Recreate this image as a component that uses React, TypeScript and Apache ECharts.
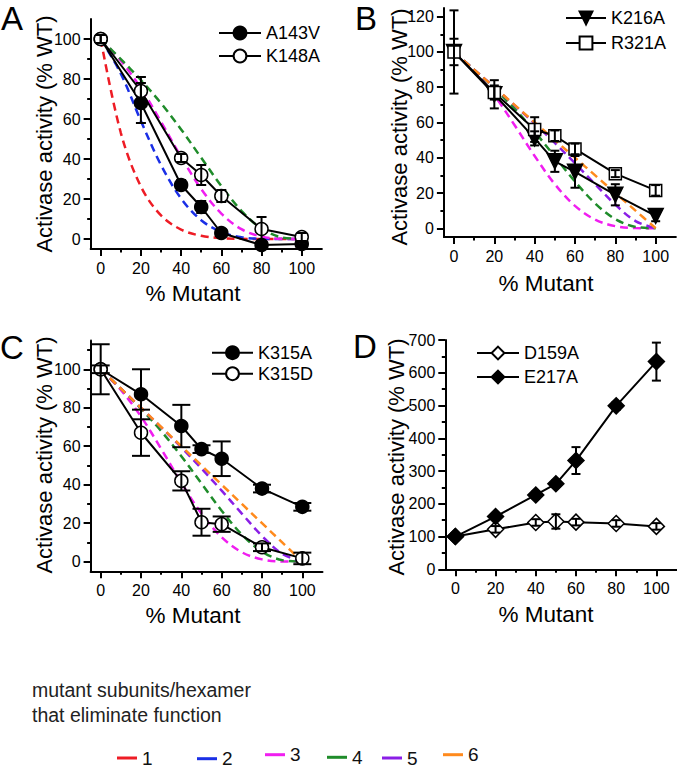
import React, { useEffect, useRef } from 'react';
import * as echarts from 'echarts';

const FONT = "'Liberation Sans', Arial, Helvetica, sans-serif";

// x positions (% mutant) of the measured points
const xPct = [0, 20, 40, 50, 60, 80, 100];

// Panel A
const a143v = [100, 68, 27, 16, 3, -3, -2.5];
const a143vErr = [2, 10, 2.5, 3, 2, 1.5, 1];
const k148a = [100, 74, 40.5, 32, 21.5, 5, 1];
const k148aErr = [2, 7, 2, 5, 3, 6, 2];

// Panel B
const k216a = [100, 76, 51, 38, 32, 19, 7];
const k216aErr = [23.6, 8, 4, 6, 9, 6, 3];
const r321a = [100, 77, 56, 52.5, 45, 31, 21.5];
const r321aErr = [7.5, 4, 7, 3, 3, 2, 3];

// Panel C
const k315a = [100, 87, 70.5, 58.5, 53.5, 38, 28.5];
const k315aErr = [13, 13, 11, 2, 9, 2, 2];
const k315d = [100, 67, 42, 20.5, 19.5, 7.5, 1.7];
const k315dErr = [2, 12, 5, 7, 4, 2, 3];

// Panel D
const d159a = [100, 122, 143, 146, 144, 140, 131];
const d159aErr = [10, 10, 10, 22, 10, 10, 10];
const e217a = [100, 161, 227, 261, 332, 499, 634];
const e217aErr = [10, 10, 10, 10, 41, 12, 58];

// Dashed model curves (mutant subunits/hexamer that eliminate function)
const modelX = [0, 10, 20, 30, 40, 50, 60, 70, 80, 90, 100];
const model1 = [100, 53.1, 26.2, 11.8, 4.7, 1.6, 0.4, 0.1, 0, 0, 0];
const model2 = [100, 82.7, 59.0, 37.0, 20.2, 9.4, 3.5, 0.9, 0.1, 0, 0];
const model3 = [100, 89.2, 75.4, 58.6, 41.0, 25.0, 12.7, 4.9, 1.2, 0.1, 0];
const model4 = [100, 89.9, 79.5, 67.9, 54.8, 40.6, 26.5, 14.1, 5.2, 0.8, 0];
const model5 = [100, 90.0, 80.0, 69.8, 59.4, 48.4, 36.9, 25.0, 13.4, 4.1, 0];
const model6 = [100, 90, 80, 70, 60, 50, 40, 30, 20, 10, 0];
const modelNames = ['1', '2', '3', '4', '5', '6'];

// tick values
const xMajor = [0, 20, 40, 60, 80, 100];
const xMinor = [10, 30, 50, 70, 90];
const yMajor100 = [0, 20, 40, 60, 80, 100];
const yMinor100 = [10, 30, 50, 70, 90];
const yMajor120 = [0, 20, 40, 60, 80, 100, 120];
const yMinor120 = [10, 30, 50, 70, 90, 110];
const yMinor115 = [10, 30, 50, 70, 90, 110];
const yMajor700 = [0, 100, 200, 300, 400, 500, 600, 700];
const yMinor700 = [50, 150, 250, 350, 450, 550, 650];

const MODELS = [model1, model2, model3, model4, model5, model6];
const MODEL_COLORS = ['#ee1c25', '#1a2fe6', '#f01ef0', '#1f8c2a', '#8a1ee6', '#ff8a1c'];

type DS = { name: string; y: number[]; err: number[]; symbol: string; fill: string; size: number; rotate?: number };

const panels: any[] = [
  {
    grid: { left: 90.65, top: 19, width: 231.2, height: 230 },
    yMin: -5, yMax: 110, yMajor: yMajor100, yMinor: yMinor100,
    models: [0, 1, 2, 3], cap: 5,
    data: [
      { name: 'A143V', y: a143v, err: a143vErr, symbol: 'circle', fill: '#000', size: 13 },
      { name: 'K148A', y: k148a, err: k148aErr, symbol: 'circle', fill: '#fff', size: 13 },
    ] as DS[],
    legend: { left: 218, top: 24, itemWidth: 42, itemGap: 5 },
  },
  {
    grid: { left: 443.9, top: 7.9, width: 231.95, height: 229.2 },
    yMin: -5, yMax: 125, yMajor: yMajor120, yMinor: yMinor120,
    models: [2, 3, 4, 5], cap: 4.5,
    data: [
      { name: 'K216A', y: k216a, err: k216aErr, symbol: 'triangle', fill: '#000', size: 15, rotate: 180 },
      { name: 'R321A', y: r321a, err: r321aErr, symbol: 'rect', fill: '#fff', size: 12 },
    ] as DS[],
    legend: { left: 565, top: 9, itemWidth: 40, itemGap: 7 },
  },
  {
    grid: { left: 90.6, top: 340.4, width: 231.9, height: 230.9 },
    yMin: -5, yMax: 115, yMajor: yMajor100, yMinor: yMinor115,
    models: [2, 3, 4, 5], cap: 9,
    data: [
      { name: 'K315A', y: k315a, err: k315aErr, symbol: 'circle', fill: '#000', size: 13 },
      { name: 'K315D', y: k315d, err: k315dErr, symbol: 'circle', fill: '#fff', size: 13 },
    ] as DS[],
    legend: { left: 211, top: 343.7, itemWidth: 41, itemGap: 3 },
  },
  {
    grid: { left: 445.3, top: 340, width: 231.2, height: 229.3 },
    yMin: 0, yMax: 700, yMajor: yMajor700, yMinor: yMinor700,
    models: [], cap: 4.5,
    data: [
      { name: 'D159A', y: d159a, err: d159aErr, symbol: 'diamond', fill: '#fff', size: 16 },
      { name: 'E217A', y: e217a, err: e217aErr, symbol: 'diamond', fill: '#000', size: 16 },
    ] as DS[],
    legend: { left: 476, top: 344, itemWidth: 42, itemGap: 6 },
  },
];

const bottomLegendPos = [
  { left: 117, top: 748.5 },
  { left: 197, top: 749.2 },
  { left: 265, top: 745.2 },
  { left: 327, top: 747.8 },
  { left: 382, top: 748.5 },
  { left: 443, top: 745.2 },
];

function buildOption() {
  const grid: any[] = [];
  const xAxis: any[] = [];
  const yAxis: any[] = [];
  const series: any[] = [];
  const legend: any[] = [];

  panels.forEach((p, i) => {
    grid.push({ ...p.grid, containLabel: false, outerBoundsMode: 'none' });
    const axisCommon = {
      type: 'value',
      gridIndex: i,
      splitLine: { show: false },
    };
    // major x axis
    xAxis.push({
      ...axisCommon,
      position: 'bottom',
      min: -5, max: 110,
      axisLine: { show: true, onZero: false, lineStyle: { color: '#000', width: 2 } },
      axisTick: { show: true, inside: false, length: 7, customValues: xMajor, lineStyle: { color: '#000', width: 2 } },
      axisLabel: { show: true, customValues: xMajor, margin: 11, color: '#000', fontSize: 16, fontFamily: FONT },
    });
    // minor x axis
    xAxis.push({
      ...axisCommon,
      position: 'bottom',
      offset: 0,
      min: -5, max: 110,
      axisLine: { show: false, onZero: false },
      axisTick: { show: true, inside: false, length: 3.5, customValues: xMinor, lineStyle: { color: '#000', width: 2 } },
      axisLabel: { show: false },
    });
    yAxis.push({
      ...axisCommon,
      position: 'left',
      min: p.yMin, max: p.yMax,
      axisLine: { show: true, onZero: false, lineStyle: { color: '#000', width: 2 } },
      axisTick: { show: true, inside: false, length: 7, customValues: p.yMajor, lineStyle: { color: '#000', width: 2 } },
      axisLabel: { show: true, customValues: p.yMajor, margin: 10, color: '#000', fontSize: 16, fontFamily: FONT },
    });
    yAxis.push({
      ...axisCommon,
      position: 'left',
      offset: 0,
      min: p.yMin, max: p.yMax,
      axisLine: { show: false, onZero: false },
      axisTick: { show: true, inside: false, length: 3.5, customValues: p.yMinor, lineStyle: { color: '#000', width: 2 } },
      axisLabel: { show: false },
    });

    const xi = i * 2;
    const yi = i * 2;

    p.models.forEach((m: number) => {
      series.push({
        type: 'line',
        name: modelNames[m],
        xAxisIndex: xi,
        yAxisIndex: yi,
        data: modelX.map((x, j) => [x, MODELS[m][j]]),
        smooth: 0.35,
        symbol: 'none',
        lineStyle: { color: MODEL_COLORS[m], width: 2.5, type: [8, 5] },
        itemStyle: { color: MODEL_COLORS[m] },
        z: 1,
        silent: true,
      });
    });

    p.data.forEach((d: DS) => {
      series.push({
        type: 'line',
        name: d.name,
        xAxisIndex: xi,
        yAxisIndex: yi,
        data: xPct.map((x, j) => [x, d.y[j]]),
        symbol: d.symbol,
        symbolSize: d.size,
        symbolRotate: d.rotate || 0,
        showAllSymbol: true,
        lineStyle: { color: '#000', width: 2 },
        itemStyle: { color: d.fill, borderColor: '#000', borderWidth: 1.5 },
        z: 3,
        silent: true,
      });
    });

    p.data.forEach((d: DS) => {
      const cap = p.cap;
      series.push({
        type: 'custom',
        name: d.name + ' err',
        xAxisIndex: xi,
        yAxisIndex: yi,
        data: xPct.map((x, j) => [x, d.y[j], d.err[j]]),
        renderItem: (_params: any, api: any) => {
          const x = api.value(0);
          const y = api.value(1);
          const e = api.value(2);
          const top = api.coord([x, y + e]);
          const bot = api.coord([x, y - e]);
          const st = { stroke: '#000', lineWidth: 2 };
          return {
            type: 'group',
            children: [
              { type: 'line', shape: { x1: top[0], y1: top[1], x2: bot[0], y2: bot[1] }, style: st },
              { type: 'line', shape: { x1: top[0] - cap, y1: top[1], x2: top[0] + cap, y2: top[1] }, style: st },
              { type: 'line', shape: { x1: bot[0] - cap, y1: bot[1], x2: bot[0] + cap, y2: bot[1] }, style: st },
            ],
          };
        },
        z: 4,
        silent: true,
      });
    });

    legend.push({
      orient: 'vertical',
      left: p.legend.left,
      top: p.legend.top,
      itemWidth: p.legend.itemWidth,
      itemHeight: 16,
      itemGap: p.legend.itemGap,
      padding: 0,
      selectedMode: false,
      data: p.data.map((d: DS) => d.name),
      textStyle: { fontSize: 18, color: '#000', fontFamily: FONT },
    });
  });

  modelNames.forEach((n, k) => {
    legend.push({
      left: bottomLegendPos[k].left,
      top: bottomLegendPos[k].top,
      icon: 'rect',
      itemWidth: 20,
      itemHeight: 3,
      padding: 0,
      selectedMode: false,
      data: [n],
      itemStyle: { color: MODEL_COLORS[k], borderWidth: 0 },
      textStyle: { fontSize: 19, color: '#111', fontFamily: FONT },
    });
  });

  const txt = (text: string, x: number, y: number, size: number, opts: any = {}) => ({
    type: 'text',
    x, y,
    rotation: opts.rotation || 0,
    silent: true,
    style: {
      text,
      fontSize: size,
      fontFamily: FONT,
      fill: opts.fill || '#000',
      textAlign: opts.align || 'center',
      align: opts.align || 'center',
      textVerticalAlign: 'middle',
      verticalAlign: 'middle',
    },
  });

  const R = Math.PI / 2;
  const graphic = [
    txt('A', 1, 18, 33, { align: 'left' }),
    txt('B', 355, 18, 33, { align: 'left' }),
    txt('C', 0, 347, 33, { align: 'left' }),
    txt('D', 353, 346, 33, { align: 'left' }),
    txt('Activase activity (% WT)', 44, 134, 22, { rotation: R }),
    txt('Activase activity (% WT)', 399, 127, 22, { rotation: R }),
    txt('Activase activity (% WT)', 44, 455, 22, { rotation: R }),
    txt('Activase activity (% WT)', 396, 457, 22, { rotation: R }),
    txt('% Mutant', 193, 293, 22.5),
    txt('% Mutant', 546, 283, 22.5),
    txt('% Mutant', 193, 615, 22.5),
    txt('% Mutant', 546, 614, 22.5),
    txt('mutant subunits/hexamer', 32, 690, 19.5, { align: 'left', fill: '#222' }),
    txt('that eliminate function', 32, 715, 19.5, { align: 'left', fill: '#222' }),
  ];

  return {
    animation: false,
    backgroundColor: '#fff',
    grid,
    xAxis,
    yAxis,
    series,
    legend,
    graphic,
  };
}

export default function App() {
  const ref = useRef<HTMLDivElement>(null);
  useEffect(() => {
    const chart = echarts.init(ref.current!, null, { renderer: 'svg' });
    chart.setOption(buildOption() as any);
    return () => chart.dispose();
  }, []);
  return (
    <div
      ref={ref}
      style={{ position: 'fixed', left: 0, top: 0, width: 677, height: 769, background: '#fff' }}
    />
  );
}
